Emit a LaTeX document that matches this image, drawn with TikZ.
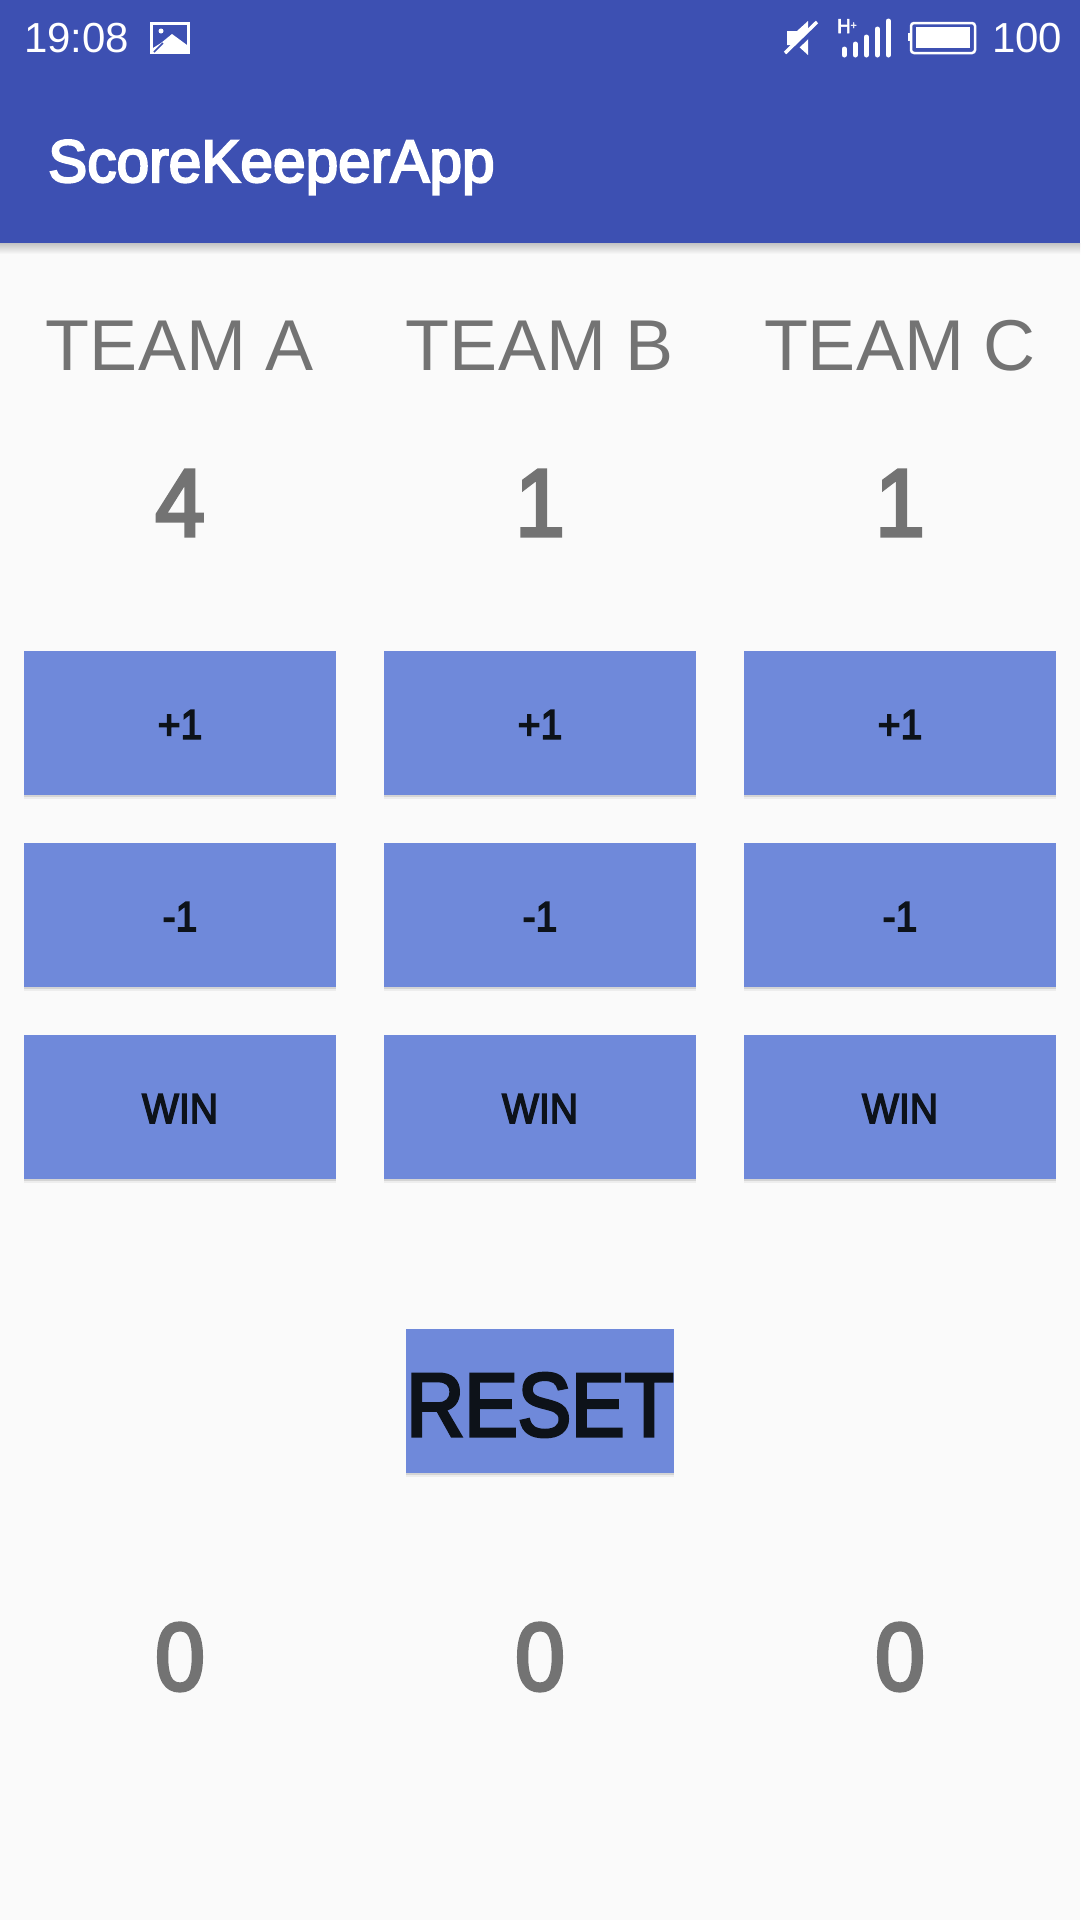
\documentclass[tikz,border=0pt]{standalone}
\usepackage{fontspec}
\setmainfont{Liberation Sans}
\newfontfamily\medfont[FakeBold=3.5,FakeStretch=0.93]{Liberation Sans}
\newfontfamily\titlefont[FakeBold=3.5,FakeStretch=0.977]{Liberation Sans}
\newfontfamily\resetfont[FakeBold=3.5,FakeStretch=0.89]{Liberation Sans}
\usetikzlibrary{shadows}
\definecolor{barblue}{HTML}{3D50B2}
\definecolor{btnblue}{HTML}{6F89DA}
\definecolor{pagebg}{HTML}{FAFAFA}
\definecolor{labelgray}{HTML}{737373}
\definecolor{btnink}{HTML}{0D1219}
\tikzset{
  statustext/.style={anchor=base west,inner sep=0pt,white,font=\fontsize{42}{50}\selectfont},
  teamtext/.style={anchor=base,inner sep=0pt,labelgray,font=\fontsize{72}{86}\selectfont},
  scoretext/.style={anchor=base,inner sep=0pt,labelgray,font=\medfont\fontsize{96}{115}\selectfont},
  btn/.style={fill=btnblue,inner sep=0pt,minimum width=312pt,minimum height=144pt,text=btnink,
    text height=32pt,text depth=0pt,font=\medfont\fontsize{42}{50}\selectfont,
    drop shadow={shadow xshift=0pt,shadow yshift=-4pt,fill=black,opacity=.05},
    drop shadow={shadow xshift=0pt,shadow yshift=-2pt,fill=black,opacity=.10}}
}
\begin{document}
\begin{tikzpicture}[x=1pt,y=-1pt]
\useasboundingbox (0,0) rectangle (1080,1920);
\fill[pagebg] (0,0) rectangle (1080,1920);

% app bar
\fill[top color=black!22!pagebg,bottom color=pagebg] (0,243) rectangle (1080,254);
\fill[barblue] (0,0) rectangle (1080,243);

\node[statustext] (clock) at (24,52) {19:08};
\node[statustext] (level) at (992,52) {100};
\node[anchor=base west,inner sep=0pt,white,font=\titlefont\fontsize{60}{72}\selectfont] (title) at (48,182) {ScoreKeeperApp};

% picture icon
\fill[white] (150,22) rectangle (190,54);
\fill[barblue] (153,25) rectangle (187,51);
\fill[white] (153,51) -- (153,48) -- (161,43) -- (172,34) -- (187,45) -- (187,51) -- cycle;
\fill[white] (161,31) circle (2.5);
\draw[barblue,line width=1.5pt] (154,52) -- (163,43);

% mute icon
\fill[white] (787,31) -- (797,31) -- (808,21) -- (808,55) -- (797,45) -- (787,45) -- cycle;
\draw[barblue,line width=5pt] (787,56) -- (819,25);
\draw[white,line width=3.5pt] (785,53) -- (817,22);

% signal bars
\begin{scope}[white,line width=5pt,line cap=round]
\draw (844.3,55) -- (844.3,49);
\draw (855.3,55) -- (855.3,44);
\draw (866.3,55) -- (866.3,37);
\draw (877.3,55) -- (877.3,29);
\draw (888.3,55) -- (888.3,21);
\end{scope}
\node[anchor=base west,inner sep=0pt,white,font=\medfont\fontsize{20}{24}\selectfont] (hplus) at (837,33) {H\raisebox{4pt}{\fontsize{11}{13}\selectfont+}};

% battery
\draw[white,line width=2.5pt,rounded corners=3pt] (911,23) rectangle (975,53);
\fill[white] (916,27) rectangle (970,48);
\fill[white] (908,33) rectangle (910,41);

% teams
\node[teamtext] (teama) at (180,370) {TEAM A};
\node[teamtext] (teamb) at (540,370) {TEAM B};
\node[teamtext] (teamc) at (900,370) {TEAM C};

\node[scoretext] (score0) at (180,536) {4};
\node[scoretext] (score1) at (540,536) {1};
\node[scoretext] (score2) at (900,536) {1};

% buttons
\node[btn] (b0) at (180,723) {+1};
\node[btn] (b1) at (540,723) {+1};
\node[btn] (b2) at (900,723) {+1};

\node[btn] (b3) at (180,915) {-1};
\node[btn] (b4) at (540,915) {-1};
\node[btn] (b5) at (900,915) {-1};

\node[btn] (b6) at (180,1107) {WIN};
\node[btn] (b7) at (540,1107) {WIN};
\node[btn] (b8) at (900,1107) {WIN};

\node[btn,minimum width=268pt,text height=70pt,font=\resetfont\fontsize{90}{108}\selectfont] (reset) at (540,1401) {RESET};

\node[scoretext] (total0) at (180,1690) {0};
\node[scoretext] (total1) at (540,1690) {0};
\node[scoretext] (total2) at (900,1690) {0};
\end{tikzpicture}
\end{document}
